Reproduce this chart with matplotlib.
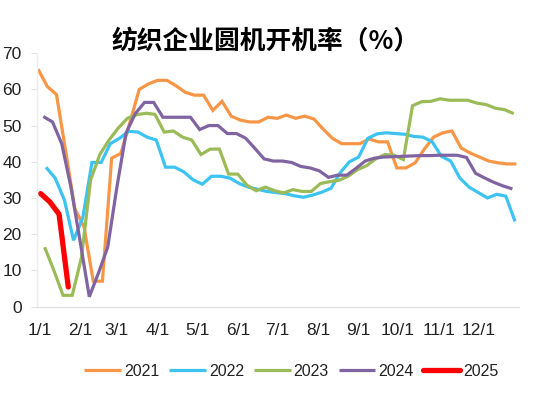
import matplotlib
matplotlib.use("Agg")
import matplotlib.pyplot as plt
import numpy as np

plt.rcParams['font.family'] = ['Liberation Sans', 'Noto Sans CJK SC', 'DejaVu Sans']

# first weekly report day (day of year) for each year, then weekly values
years = ["2021", "2022", "2023", "2024", "2025"]
start_day = {"2021": -1, "2022": 5, "2023": 4, "2024": 3, "2025": 1}

v2021 = [65.6, 60.8, 58.6, 43.0, 27.0, 22.0, 7.0, 7.0, 41.0, 42.3, 51.0, 60.0,
         61.5, 62.5, 62.5, 61.0, 59.2, 58.4, 58.4, 54.2, 56.7, 52.6, 51.5, 51.0,
         51.0, 52.3, 52.0, 52.9, 52.0, 52.6, 51.8, 49.0, 46.5, 45.0, 45.0, 45.0,
         46.3, 45.5, 45.5, 38.3, 38.3, 39.7, 43.5, 46.8, 48.0, 48.5, 43.8, 42.4,
         41.3, 40.2, 39.7, 39.4, 39.4]
v2022 = [38.5, 35.5, 29.5, 18.3, 24.5, 39.8, 39.8, 45.0, 46.5, 48.4, 48.2, 46.8,
         46.0, 38.5, 38.5, 37.2, 35.0, 33.8, 36.0, 36.0, 35.5, 34.0, 33.0, 32.4,
         31.8, 31.5, 31.2, 30.6, 30.2, 30.8, 31.6, 32.7, 37.0, 40.0, 41.3, 46.5,
         47.7, 48.0, 47.8, 47.6, 47.0, 46.8, 45.5, 41.5, 40.2, 35.5, 33.0, 31.5,
         30.0, 31.0, 30.5, 23.5]
v2023 = [16.4, 10.0, 3.1, 3.1, 13.5, 35.0, 42.0, 46.0, 49.3, 52.0, 53.0, 53.4,
         53.1, 48.2, 48.5, 46.8, 46.0, 42.0, 43.5, 43.5, 36.6, 36.6, 33.5, 32.0,
         33.0, 32.0, 31.4, 32.3, 31.8, 31.8, 34.0, 34.5, 34.9, 36.0, 37.8, 38.9,
         40.8, 42.0, 41.8, 40.6, 55.5, 56.6, 56.7, 57.4, 57.0, 57.0, 57.0, 56.2,
         55.8, 54.8, 54.4, 53.3]
v2024 = [52.5, 51.0, 45.0, 33.0, 18.0, 2.7, 9.3, 16.4, 33.0, 48.0, 53.3, 56.4,
         56.4, 52.3, 52.3, 52.3, 52.3, 48.9, 50.0, 50.0, 47.8, 47.8, 46.5, 43.7,
         40.8, 40.2, 40.2, 39.8, 38.7, 38.3, 37.5, 35.7, 36.3, 36.3, 38.2, 40.2,
         41.0, 41.3, 41.4, 41.5, 41.6, 41.7, 41.7, 41.8, 41.8, 41.8, 41.2, 36.8,
         35.5, 34.3, 33.3, 32.5]
v2025 = [31.2, 28.9, 25.5, 5.4]

values = {"2021": v2021, "2022": v2022, "2023": v2023, "2024": v2024, "2025": v2025}
colors = {"2021": "#F79646", "2022": "#3CC3F2", "2023": "#9BBB59",
          "2024": "#8064A2", "2025": "#FF0000"}
widths = {"2021": 2.3, "2022": 2.3, "2023": 2.3, "2024": 2.3, "2025": 3.8}

month_labels = ["1/1", "2/1", "3/1", "4/1", "5/1", "6/1", "7/1", "8/1",
                "9/1", "10/1", "11/1", "12/1"]
month_days = [0, 31, 59, 90, 120, 151, 181, 212, 243, 273, 304, 334]

title = "纺织企业圆机开机率（%）"

fig = plt.figure(figsize=(5.5, 3.94), dpi=100)
ax = fig.add_axes([0.0673, 0.222, 0.8763, 0.643])

for y in years:
    vals = values[y]
    x = start_day[y] + 7 * np.arange(len(vals))
    ax.plot(x, vals, color=colors[y], lw=widths[y], label=y,
            solid_joinstyle='miter' if y != "2025" else 'round',
            solid_capstyle='butt' if y != "2025" else 'round')

ax.set_xlim(-1.8, 365)
ax.set_ylim(0, 70)
ax.set_yticks(range(0, 71, 10))
ax.set_xticks(month_days)
ax.set_xticklabels(month_labels)

for s in ["top", "right"]:
    ax.spines[s].set_visible(False)
ax.spines["left"].set_color("#eeeeee")
ax.spines["bottom"].set_color("#e3e3e3")
ax.spines["left"].set_linewidth(1.0)
ax.spines["bottom"].set_linewidth(1.0)
ax.tick_params(axis='y', length=4, color="#e3e3e3", labelsize=12.5, pad=7,
               labelcolor="#222222")
ax.tick_params(axis='x', length=0, labelsize=12.5, pad=12, labelcolor="#222222")

fig.text(0.482, 0.895, title, ha='center', va='center', fontsize=18.5,
         fontweight='bold', family=['Noto Sans CJK SC', 'DejaVu Sans'])

leg = fig.legend(loc='center', bbox_to_anchor=(0.53, 0.058), ncol=5,
                 frameon=False, fontsize=11.5, handlelength=2.3,
                 handletextpad=0.2, columnspacing=0.6)
for t in leg.get_texts():
    t.set_color("#222222")

fig.savefig("out.png", dpi=100)
